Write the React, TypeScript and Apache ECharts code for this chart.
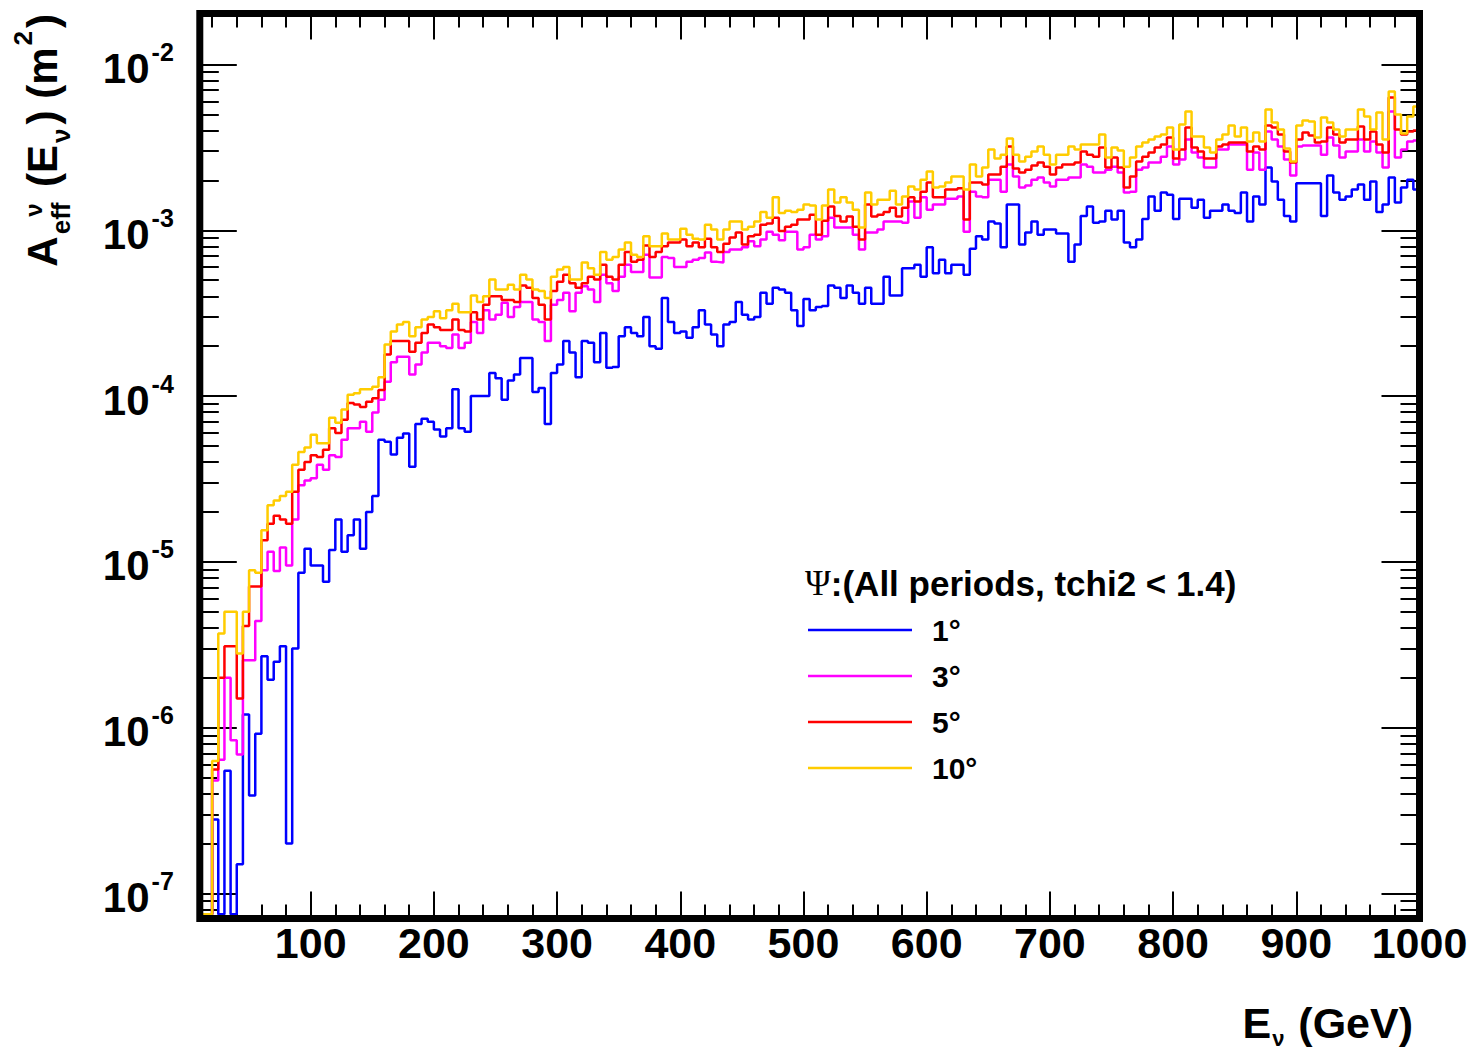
import { useEffect, useRef } from 'react';
import * as echarts from 'echarts';

// Histogram binning (GeV)
const energyBinStart = 10;
const energyBinWidth = 5;

// Effective area A_eff (m^2) per 5 GeV bin, bins starting at 10 GeV (0 = empty bin)
const aeff1deg = [
  0, 0, 2.8e-7, 0, 5.5e-7, 0, 1.5e-7, 1.2e-6, 3.9e-7, 9.2e-7,
  2.7e-6, 1.95e-6, 2.5e-6, 3.1e-6, 2.0e-7, 3.0e-6, 8.6e-6, 1.2e-5, 9.5e-6, 9.5e-6,
  7.6e-6, 1.18e-5, 1.8e-5, 1.15e-5, 1.45e-5, 1.8e-5, 1.2e-5, 2.0e-5, 2.5e-5, 5.45e-5,
  5.3e-5, 4.45e-5, 5.6e-5, 5.95e-5, 3.75e-5, 6.8e-5, 7.3e-5, 7.0e-5, 6.3e-5, 5.7e-5,
  6.4e-5, 1.1e-4, 6.4e-5, 6.1e-5, 1.0e-4, 1.0e-4, 1.0e-4, 1.38e-4, 1.28e-4, 9.5e-5,
  1.24e-4, 1.35e-4, 1.7e-4, 1.7e-4, 1.06e-4, 1.12e-4, 6.8e-5, 1.38e-4, 1.55e-4, 2.15e-4,
  1.83e-4, 1.3e-4, 2.15e-4, 2.1e-4, 1.6e-4, 2.4e-4, 1.48e-4, 1.5e-4, 2.3e-4, 2.6e-4,
  2.4e-4, 2.3e-4, 3.0e-4, 2.0e-4, 1.93e-4, 3.9e-4, 2.8e-4, 2.4e-4, 2.45e-4, 2.25e-4,
  2.6e-4, 3.3e-4, 2.7e-4, 2.35e-4, 2.0e-4, 2.7e-4, 2.8e-4, 3.7e-4, 3.1e-4, 2.9e-4,
  3.0e-4, 4.2e-4, 3.6e-4, 4.5e-4, 4.4e-4, 4.2e-4, 3.3e-4, 2.65e-4, 3.85e-4, 3.3e-4,
  3.45e-4, 3.5e-4, 4.65e-4, 4.5e-4, 3.9e-4, 4.65e-4, 4.2e-4, 3.6e-4, 4.5e-4, 3.6e-4,
  3.6e-4, 5.25e-4, 4.05e-4, 4.05e-4, 5.9e-4, 5.9e-4, 6.2e-4, 5.25e-4, 7.9e-4, 5.5e-4,
  6.65e-4, 5.5e-4, 6.2e-4, 6.2e-4, 5.4e-4, 7.75e-4, 9.2e-4, 8.8e-4, 1.13e-3, 1.1e-3,
  7.9e-4, 1.43e-3, 1.43e-3, 8.2e-4, 9.7e-4, 1.13e-3, 9.4e-4, 1.01e-3, 1.01e-3, 9.55e-4,
  9.55e-4, 6.45e-4, 8.2e-4, 1.22e-3, 1.39e-3, 1.11e-3, 1.13e-3, 1.31e-3, 1.16e-3, 1.31e-3,
  8.45e-4, 7.9e-4, 8.8e-4, 1.17e-3, 1.6e-3, 1.31e-3, 1.69e-3, 1.64e-3, 1.17e-3, 1.55e-3,
  1.55e-3, 1.37e-3, 1.53e-3, 1.19e-3, 1.31e-3, 1.31e-3, 1.43e-3, 1.31e-3, 1.27e-3, 1.69e-3,
  1.13e-3, 1.6e-3, 1.43e-3, 2.39e-3, 1.97e-3, 1.53e-3, 1.22e-3, 1.13e-3, 1.92e-3, 1.92e-3,
  1.92e-3, 1.92e-3, 1.22e-3, 2.14e-3, 1.69e-3, 1.53e-3, 1.6e-3, 1.76e-3, 1.89e-3, 1.53e-3,
  1.97e-3, 1.29e-3, 1.43e-3, 2.08e-3, 1.47e-3, 1.81e-3, 2.02e-3, 1.76e-3,
];

const aeff3deg = [
  0, 0, 4.8e-7, 6.4e-7, 2.0e-6, 8.4e-7, 6.9e-7, 2.55e-6, 2.55e-6, 4.4e-6,
  8.9e-6, 1.15e-5, 8.8e-6, 1.22e-5, 9.5e-6, 1.8e-5, 2.9e-5, 3.1e-5, 3.2e-5, 3.85e-5,
  3.6e-5, 4.4e-5, 4.3e-5, 5.45e-5, 6.4e-5, 6.4e-5, 7.0e-5, 6.1e-5, 7.95e-5, 9.5e-5,
  1.22e-4, 1.6e-4, 1.73e-4, 1.73e-4, 1.35e-4, 1.55e-4, 1.83e-4, 2.1e-4, 2.1e-4, 2.0e-4,
  1.95e-4, 2.35e-4, 1.95e-4, 2.1e-4, 2.8e-4, 2.4e-4, 3.3e-4, 2.9e-4, 3.1e-4, 3.65e-4,
  3.0e-4, 3.45e-4, 3.7e-4, 3.7e-4, 2.9e-4, 2.8e-4, 2.15e-4, 3.55e-4, 3.8e-4, 4.2e-4,
  3.25e-4, 4.2e-4, 4.6e-4, 4.4e-4, 3.7e-4, 5.4e-4, 4.8e-4, 4.3e-4, 5.25e-4, 6.2e-4,
  5.6e-4, 5.6e-4, 7.13e-4, 5.2e-4, 5.2e-4, 6.9e-4, 6.8e-4, 6.0e-4, 6.0e-4, 6.45e-4,
  6.65e-4, 6.8e-4, 7.35e-4, 6.45e-4, 6.4e-4, 7.4e-4, 7.65e-4, 7.65e-4, 7.9e-4, 8.6e-4,
  8.0e-4, 8.8e-4, 9.8e-4, 9.4e-4, 8.7e-4, 9.8e-4, 9.8e-4, 7.65e-4, 7.9e-4, 9.4e-4,
  8.8e-4, 9.2e-4, 1.19e-3, 1.04e-3, 1.04e-3, 1.04e-3, 9.4e-4, 7.65e-4, 9.7e-4, 9.7e-4,
  1.01e-3, 1.13e-3, 1.13e-3, 1.13e-3, 1.11e-3, 1.49e-3, 1.19e-3, 1.58e-3, 1.33e-3, 1.43e-3,
  1.43e-3, 1.55e-3, 1.55e-3, 1.6e-3, 9.8e-4, 1.71e-3, 1.6e-3, 1.58e-3, 2.02e-3, 2.02e-3,
  1.71e-3, 2.49e-3, 2.11e-3, 1.81e-3, 1.86e-3, 2.02e-3, 2.08e-3, 1.94e-3, 1.84e-3, 2.02e-3,
  2.02e-3, 2.08e-3, 2.08e-3, 2.49e-3, 2.42e-3, 2.23e-3, 2.23e-3, 2.32e-3, 2.42e-3, 2.23e-3,
  1.69e-3, 1.71e-3, 2.32e-3, 2.39e-3, 2.56e-3, 2.56e-3, 2.78e-3, 3.2e-3, 2.49e-3, 2.67e-3,
  3.53e-3, 2.95e-3, 2.75e-3, 2.39e-3, 2.39e-3, 3.07e-3, 3.07e-3, 3.29e-3, 3.29e-3, 3.29e-3,
  2.32e-3, 2.95e-3, 2.32e-3, 3.94e-3, 3.53e-3, 3.2e-3, 2.67e-3, 2.14e-3, 3.2e-3, 3.25e-3,
  3.25e-3, 3.25e-3, 2.86e-3, 3.63e-3, 3.25e-3, 2.75e-3, 2.99e-3, 2.99e-3, 3.53e-3, 2.99e-3,
  3.43e-3, 2.95e-3, 2.39e-3, 5.2e-3, 2.75e-3, 3.07e-3, 3.43e-3, 3.48e-3,
];

const aeff5deg = [
  0, 0, 5.6e-7, 2.0e-6, 3.1e-6, 3.1e-6, 1.5e-6, 4.1e-6, 7.1e-6, 7.1e-6,
  1.35e-5, 1.7e-5, 1.9e-5, 1.8e-5, 1.7e-5, 2.65e-5, 3.6e-5, 4.0e-5, 4.4e-5, 4.3e-5,
  4.75e-5, 6.4e-5, 6.0e-5, 7.2e-5, 9.1e-5, 8.9e-5, 8.6e-5, 9.25e-5, 9.7e-5, 1.09e-4,
  1.78e-4, 2.15e-4, 2.15e-4, 2.15e-4, 1.85e-4, 2.1e-4, 2.4e-4, 2.7e-4, 2.6e-4, 2.5e-4,
  2.5e-4, 2.9e-4, 2.5e-4, 2.45e-4, 3.2e-4, 2.9e-4, 3.55e-4, 4.0e-4, 4.0e-4, 3.8e-4,
  3.8e-4, 3.7e-4, 4.65e-4, 4.5e-4, 3.9e-4, 3.55e-4, 2.9e-4, 4.3e-4, 4.9e-4, 5.4e-4,
  4.8e-4, 4.5e-4, 4.8e-4, 5.25e-4, 5.05e-4, 6.2e-4, 5.25e-4, 5.05e-4, 6.2e-4, 7.4e-4,
  6.45e-4, 6.65e-4, 8.1e-4, 6.9e-4, 7.4e-4, 8.0e-4, 8.45e-4, 8.45e-4, 8.8e-4, 8.0e-4,
  8.45e-4, 7.9e-4, 8.9e-4, 7.9e-4, 7.4e-4, 8.3e-4, 9.05e-4, 9.7e-4, 8.2e-4, 9.2e-4,
  9.4e-4, 1.08e-3, 1.1e-3, 1.19e-3, 9.9e-4, 1.05e-3, 1.08e-3, 1.16e-3, 1.16e-3, 1.24e-3,
  9.4e-4, 1.14e-3, 1.39e-3, 1.22e-3, 1.13e-3, 1.21e-3, 1.05e-3, 8.8e-4, 1.43e-3, 1.21e-3,
  1.24e-3, 1.29e-3, 1.37e-3, 1.21e-3, 1.37e-3, 1.58e-3, 1.49e-3, 1.71e-3, 1.94e-3, 1.58e-3,
  1.58e-3, 1.76e-3, 1.76e-3, 1.79e-3, 1.16e-3, 1.94e-3, 1.94e-3, 1.89e-3, 2.17e-3, 2.17e-3,
  2.42e-3, 3.2e-3, 2.36e-3, 2.23e-3, 2.32e-3, 2.46e-3, 2.56e-3, 2.42e-3, 2.17e-3, 2.39e-3,
  2.49e-3, 2.49e-3, 2.56e-3, 2.99e-3, 2.86e-3, 2.78e-3, 3.16e-3, 2.39e-3, 2.75e-3, 2.39e-3,
  1.81e-3, 2.11e-3, 2.6e-3, 2.78e-3, 2.95e-3, 3.16e-3, 3.29e-3, 3.63e-3, 2.71e-3, 3.07e-3,
  4.17e-3, 3.16e-3, 2.99e-3, 2.71e-3, 2.71e-3, 3.2e-3, 3.29e-3, 3.38e-3, 3.38e-3, 3.38e-3,
  2.99e-3, 3.2e-3, 3.07e-3, 4.29e-3, 4.17e-3, 3.78e-3, 2.99e-3, 2.56e-3, 3.53e-3, 3.89e-3,
  3.73e-3, 3.38e-3, 3.43e-3, 4.17e-3, 3.78e-3, 3.38e-3, 3.53e-3, 3.53e-3, 4.23e-3, 3.53e-3,
  3.94e-3, 3.29e-3, 2.95e-3, 6.32e-3, 4.05e-3, 3.78e-3, 3.94e-3, 4.0e-3,
];

const aeff10deg = [
  0, 0, 6.3e-7, 3.7e-6, 5.0e-6, 5.0e-6, 2.8e-6, 5.0e-6, 8.9e-6, 8.6e-6,
  1.55e-5, 2.2e-5, 2.35e-5, 2.5e-5, 2.65e-5, 3.85e-5, 4.6e-5, 4.9e-5, 5.85e-5, 5.2e-5,
  5.2e-5, 7.4e-5, 6.9e-5, 8.3e-5, 1.02e-4, 1.04e-4, 1.1e-4, 1.1e-4, 1.14e-4, 1.3e-4,
  2.05e-4, 2.45e-4, 2.7e-4, 2.8e-4, 2.3e-4, 2.6e-4, 2.9e-4, 3.0e-4, 3.25e-4, 2.95e-4,
  3.3e-4, 3.6e-4, 3.2e-4, 3.2e-4, 4.05e-4, 3.7e-4, 4.0e-4, 5.05e-4, 4.4e-4, 4.4e-4,
  4.7e-4, 4.4e-4, 5.4e-4, 5.05e-4, 4.4e-4, 4.3e-4, 3.9e-4, 5.25e-4, 5.8e-4, 6.0e-4,
  5.05e-4, 5.05e-4, 6.4e-4, 5.9e-4, 5.4e-4, 7.4e-4, 6.65e-4, 6.9e-4, 7.65e-4, 8.45e-4,
  7.13e-4, 6.9e-4, 9.2e-4, 8.0e-4, 8.0e-4, 9.55e-4, 8.8e-4, 8.8e-4, 1.02e-3, 9.4e-4,
  8.9e-4, 8.8e-4, 1.08e-3, 1.01e-3, 8.8e-4, 1.01e-3, 1.13e-3, 1.13e-3, 1.01e-3, 1.05e-3,
  1.13e-3, 1.29e-3, 1.19e-3, 1.58e-3, 1.27e-3, 1.31e-3, 1.29e-3, 1.33e-3, 1.43e-3, 1.41e-3,
  1.16e-3, 1.41e-3, 1.76e-3, 1.47e-3, 1.58e-3, 1.47e-3, 1.33e-3, 1.04e-3, 1.69e-3, 1.43e-3,
  1.53e-3, 1.53e-3, 1.73e-3, 1.43e-3, 1.6e-3, 1.84e-3, 1.76e-3, 2.02e-3, 2.26e-3, 1.81e-3,
  1.84e-3, 1.94e-3, 2.11e-3, 2.11e-3, 1.76e-3, 2.49e-3, 2.11e-3, 2.39e-3, 3.07e-3, 2.71e-3,
  2.86e-3, 3.58e-3, 2.86e-3, 2.6e-3, 2.78e-3, 2.99e-3, 3.2e-3, 2.86e-3, 2.49e-3, 2.86e-3,
  2.86e-3, 3.2e-3, 3.07e-3, 3.29e-3, 3.29e-3, 3.29e-3, 3.78e-3, 2.75e-3, 3.16e-3, 3.03e-3,
  2.42e-3, 2.75e-3, 3.2e-3, 3.38e-3, 3.53e-3, 3.68e-3, 3.78e-3, 4.17e-3, 3.07e-3, 4.35e-3,
  5.2e-3, 3.68e-3, 3.68e-3, 3.16e-3, 2.95e-3, 3.53e-3, 3.78e-3, 4.29e-3, 3.68e-3, 4.17e-3,
  3.43e-3, 3.89e-3, 3.43e-3, 5.35e-3, 4.47e-3, 4.05e-3, 3.11e-3, 2.6e-3, 4.29e-3, 4.6e-3,
  4.53e-3, 3.63e-3, 4.79e-3, 4.47e-3, 4.05e-3, 3.68e-3, 4.05e-3, 4.05e-3, 5.35e-3, 4.85e-3,
  4.05e-3, 5.13e-3, 3.53e-3, 6.87e-3, 4.99e-3, 3.84e-3, 4.85e-3, 5.58e-3,
];

const seriesLabels = ['1°', '3°', '5°', '10°'];
const seriesValues = [aeff1deg, aeff3deg, aeff5deg, aeff10deg];
const seriesColors = ['#0000ff', '#ff00ff', '#ff0000', '#ffcc00'];

// Axis ticks
const xMajorTicks = [100, 200, 300, 400, 500, 600, 700, 800, 900, 1000];
const xMinorStep = 20;
const yMajorTicks = [1e-7, 1e-6, 1e-5, 1e-4, 1e-3, 1e-2];
const yMinorMantissas = [2, 3, 4, 5, 6, 7, 8, 9];
const yDecades = [-8, -7, -6, -5, -4, -3, -2];

const X_MIN = 10;
const X_MAX = 1000;
const Y_MIN = 7.07e-8;
const Y_MAX = 0.0203;
const EMPTY_LEVEL = 7.5e-8; // where empty bins are drawn (frame bottom)

const W = 1473;
const H = 1049;
const GRID = { left: 199.8, right: 53.5, top: 13.5, bottom: 130.5 };
const FONT = "'Liberation Sans', Arial, Helvetica, sans-serif";
const SERIF = "'Liberation Serif', 'DejaVu Serif', serif";

const xMinorTicks: number[] = [];
for (let v = xMinorStep; v < X_MAX; v += xMinorStep) {
  if (v % 100 !== 0 && v >= X_MIN) xMinorTicks.push(v);
}
const yMinorTicks: number[] = [];
yDecades.forEach((d) => {
  yMinorMantissas.forEach((m) => {
    const v = m * Math.pow(10, d);
    if (v > Y_MIN && v < Y_MAX) yMinorTicks.push(v);
  });
});

function histogramSteps(values: number[]) {
  const pts: number[][] = values.map((v, k) => [
    energyBinStart + k * energyBinWidth,
    v > 0 ? v : EMPTY_LEVEL,
  ]);
  const last = values[values.length - 1];
  pts.push([energyBinStart + values.length * energyBinWidth, last > 0 ? last : EMPTY_LEVEL]);
  return pts;
}

export default function App() {
  const ref = useRef<HTMLDivElement>(null);

  useEffect(() => {
    if (!ref.current) return;
    const chart = echarts.init(ref.current, null, { renderer: 'svg' });
    const tickLine = { color: '#000', width: 2 };

    const baseX = {
      type: 'value',
      gridIndex: 0,
      min: X_MIN,
      max: X_MAX,
      axisLine: { show: false },
      splitLine: { show: false },
      axisLabel: { show: false },
    };
    const baseY = {
      type: 'log',
      logBase: 10,
      gridIndex: 0,
      min: Y_MIN,
      max: Y_MAX,
      axisLine: { show: false },
      splitLine: { show: false },
      axisLabel: { show: false },
    };

    const option: any = {
      animation: false,
      backgroundColor: '#ffffff',
      grid: { left: GRID.left, right: GRID.right, top: GRID.top, bottom: GRID.bottom, containLabel: false },
      xAxis: [
        {
          ...baseX,
          position: 'bottom',
          axisTick: { inside: true, length: 27, lineStyle: tickLine, customValues: xMajorTicks },
          axisLabel: {
            show: true,
            customValues: xMajorTicks,
            formatter: (v: number) => String(Math.round(v)),
            fontSize: 43,
            fontWeight: 'bold',
            fontFamily: FONT,
            color: '#000',
            margin: 3,
          },
        },
        { ...baseX, position: 'bottom', axisTick: { inside: true, length: 14, lineStyle: tickLine, customValues: xMinorTicks } },
        { ...baseX, position: 'top', axisTick: { inside: true, length: 26, lineStyle: tickLine, customValues: xMajorTicks } },
        { ...baseX, position: 'top', axisTick: { inside: true, length: 14, lineStyle: tickLine, customValues: xMinorTicks } },
      ],
      yAxis: [
        {
          ...baseY,
          position: 'left',
          axisTick: { inside: true, length: 37, lineStyle: tickLine, customValues: yMajorTicks },
          axisLabel: {
            show: true,
            customValues: yMajorTicks,
            margin: 26,
            formatter: (v: number) => `{b|10}{s|${Math.round(Math.log10(v))}}`,
            rich: {
              b: { fontSize: 42, fontWeight: 'bold', fontFamily: FONT, color: '#000', verticalAlign: 'bottom', lineHeight: 50 },
              s: { fontSize: 25, fontWeight: 'bold', fontFamily: FONT, color: '#000', verticalAlign: 'top', lineHeight: 25, padding: [0, 0, 0, 2] },
            },
          },
        },
        { ...baseY, position: 'left', axisTick: { inside: true, length: 19, lineStyle: tickLine, customValues: yMinorTicks } },
        { ...baseY, position: 'right', axisTick: { inside: true, length: 38, lineStyle: tickLine, customValues: yMajorTicks } },
        { ...baseY, position: 'right', axisTick: { inside: true, length: 19, lineStyle: tickLine, customValues: yMinorTicks } },
      ],
      legend: {
        data: seriesLabels.map((name) => ({ name, icon: 'rect' })),
        orient: 'vertical',
        left: 808,
        top: 607,
        padding: 0,
        itemGap: 0,
        itemWidth: 104,
        itemHeight: 2.5,
        selectedMode: false,
        textStyle: {
          fontSize: 30,
          fontWeight: 'bold',
          fontFamily: FONT,
          color: '#000',
          lineHeight: 46,
          padding: [0, 0, 0, 15],
        },
      },
      series: seriesValues.map((vals, i) => ({
        name: seriesLabels[i],
        type: 'line',
        step: 'end',
        xAxisIndex: 0,
        yAxisIndex: 0,
        data: histogramSteps(vals),
        symbol: 'none',
        showSymbol: false,
        clip: true,
        z: 3 + i,
        color: seriesColors[i],
        lineStyle: { color: seriesColors[i], width: 2.5 },
        itemStyle: { color: seriesColors[i] },
        emphasis: { disabled: true },
      })),
      graphic: [
        {
          type: 'rect',
          z: 100,
          silent: true,
          shape: {
            x: GRID.left,
            y: GRID.top,
            width: W - GRID.left - GRID.right,
            height: H - GRID.top - GRID.bottom,
          },
          style: { fill: 'none', stroke: '#000', lineWidth: 7 },
        },
        {
          type: 'text',
          z: 100,
          x: 1413,
          y: 1023,
          style: {
            text: '{b|E}{sub|ν}{b| (GeV)}',
            align: 'right',
            verticalAlign: 'middle',
            fill: '#000',
            rich: {
              b: { fontSize: 43, fontWeight: 'bold', fontFamily: FONT, fill: '#000', lineHeight: 52, verticalAlign: 'middle' },
              sub: { fontSize: 22, fontWeight: 'bold', fontFamily: FONT, fill: '#000', lineHeight: 22, verticalAlign: 'bottom', padding: [0, 2, 0, 1] },
            },
          },
        },
        {
          type: 'text',
          z: 100,
          x: 42,
          y: 14,
          rotation: Math.PI / 2,
          style: {
            text: '{b|A}{sub|eff}{b| (E}{sub|ν}{b|) (m}{sup|2}{b|)}',
            align: 'right',
            verticalAlign: 'middle',
            fill: '#000',
            rich: {
              b: { fontSize: 42, fontWeight: 'bold', fontFamily: FONT, fill: '#000', lineHeight: 64, verticalAlign: 'middle' },
              sub: { fontSize: 26, fontWeight: 'bold', fontFamily: FONT, fill: '#000', lineHeight: 26, verticalAlign: 'bottom', padding: [0, 4, 0, 2] },
              sup: { fontSize: 26, fontWeight: 'bold', fontFamily: FONT, fill: '#000', lineHeight: 26, verticalAlign: 'top', padding: [0, 3, 0, 2] },
            },
          },
        },
        {
          type: 'text',
          z: 100,
          x: 33,
          y: 210,
          rotation: Math.PI / 2,
          style: {
            text: 'ν',
            align: 'center',
            verticalAlign: 'middle',
            fill: '#000',
            font: `bold 24px ${FONT}`,
          },
        },
        {
          type: 'text',
          z: 100,
          x: 805,
          y: 583,
          style: {
            text: '{psi|Ψ}{b|:(All periods, tchi2 < 1.4)}',
            align: 'left',
            verticalAlign: 'middle',
            fill: '#000',
            rich: {
              psi: { fontSize: 35, fontFamily: SERIF, fill: '#000', lineHeight: 42 },
              b: { fontSize: 35, fontWeight: 'bold', fontFamily: FONT, fill: '#000', lineHeight: 42 },
            },
          },
        },
      ],
    };

    chart.setOption(option);
    return () => {
      chart.dispose();
    };
  }, []);

  return (
    <div
      ref={ref}
      style={{ position: 'fixed', left: 0, top: 0, width: W, height: H, background: '#ffffff' }}
    />
  );
}
